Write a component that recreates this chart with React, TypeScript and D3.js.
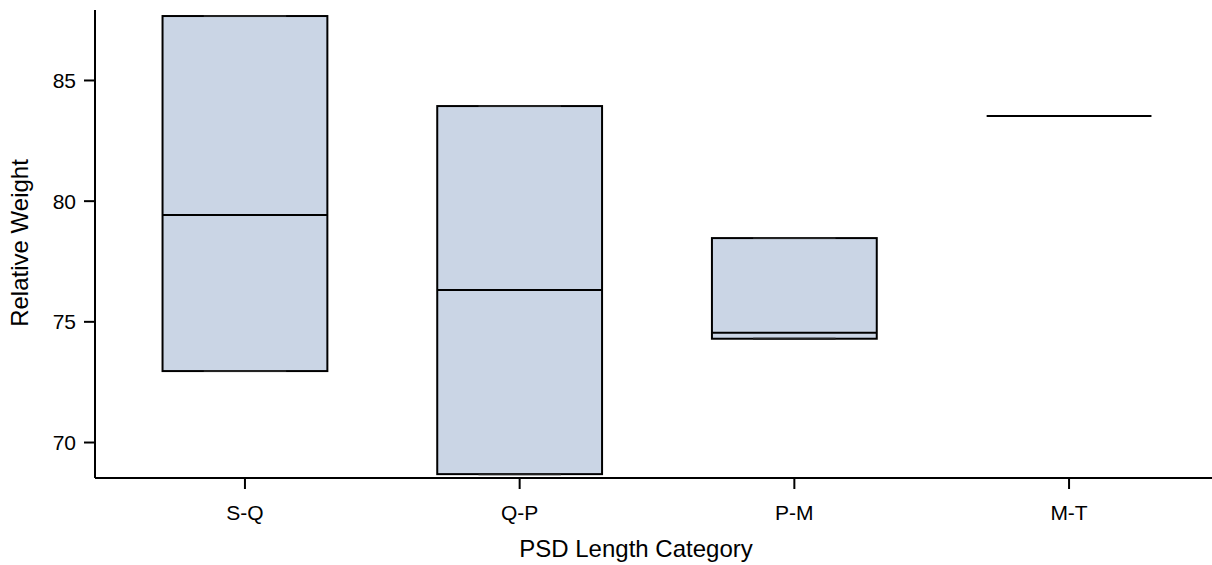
import React from "react";
import * as d3 from "d3";

const categories = ["S-Q", "Q-P", "P-M", "M-T"];
const minVals = [72.96, 68.69, 74.3, 83.53];
const q1Vals = [72.96, 68.69, 74.3, 83.53];
const medianVals = [79.43, 76.32, 74.55, 83.53];
const q3Vals = [87.67, 83.94, 78.47, 83.53];
const maxVals = [87.67, 83.94, 78.47, 83.53];
const yTicks = [70, 75, 80, 85];

const W = 1212;
const H = 565;
const axisX = 95;
const axisY = 478;
const FONT = "Arial, 'Liberation Sans', Helvetica, sans-serif";

export default function App() {
  const x = d3.scaleBand<string>().domain(categories).range([107.6, 1206.4]).padding(0);
  const y = d3.scaleLinear().domain([68.53, 87.92]).range([478, 10]);
  const bw = x.bandwidth() * 0.6;
  const fill = "#cad5e5";

  return (
    <svg width={W} height={H} style={{ position: "absolute", left: 0, top: 0, background: "#fff" }}>
      {categories.map((c, i) => {
        const cx = (x(c) as number) + x.bandwidth() / 2;
        const x0 = cx - bw / 2;
        const top = y(q3Vals[i]);
        const bot = y(q1Vals[i]);
        return (
          <g key={c}>
            <rect x={x0} y={top} width={bw} height={Math.max(bot - top, 0)} fill={fill} stroke="#000" strokeWidth={2} />
            <line x1={cx} x2={cx} y1={y(maxVals[i])} y2={top} stroke="#000" strokeWidth={1.5} />
            <line x1={cx} x2={cx} y1={bot} y2={y(minVals[i])} stroke="#000" strokeWidth={1.5} />
            <line x1={cx - bw / 4} x2={cx + bw / 4} y1={y(maxVals[i])} y2={y(maxVals[i])} stroke="#222" strokeWidth={2} />
            <line x1={cx - bw / 4} x2={cx + bw / 4} y1={y(minVals[i])} y2={y(minVals[i])} stroke="#222" strokeWidth={2} />
            <line x1={x0} x2={x0 + bw} y1={y(medianVals[i])} y2={y(medianVals[i])} stroke="#000" strokeWidth={2} />
          </g>
        );
      })}
      <line x1={axisX} x2={axisX} y1={10} y2={axisY} stroke="#000" strokeWidth={2} />
      {yTicks.map((t) => (
        <g key={t}>
          <line x1={axisX - 11} x2={axisX} y1={y(t)} y2={y(t)} stroke="#000" strokeWidth={2} />
          <text x={axisX - 19} y={y(t)} dy="0.36em" textAnchor="end" fontFamily={FONT} fontSize={21} fill="#000">
            {t}
          </text>
        </g>
      ))}
      <line x1={axisX} x2={W} y1={axisY} y2={axisY} stroke="#000" strokeWidth={2} />
      {categories.map((c) => {
        const cx = (x(c) as number) + x.bandwidth() / 2;
        return (
          <g key={c}>
            <line x1={cx} x2={cx} y1={axisY} y2={axisY + 11} stroke="#000" strokeWidth={2} />
            <text x={cx} y={520} textAnchor="middle" fontFamily={FONT} fontSize={21} fill="#000">
              {c}
            </text>
          </g>
        );
      })}
      <text x={636} y={557} textAnchor="middle" fontFamily={FONT} fontSize={24} fill="#000">
        PSD Length Category
      </text>
      <text transform="translate(28,243) rotate(-90)" textAnchor="middle" fontFamily={FONT} fontSize={24} fill="#000">
        Relative Weight
      </text>
    </svg>
  );
}
